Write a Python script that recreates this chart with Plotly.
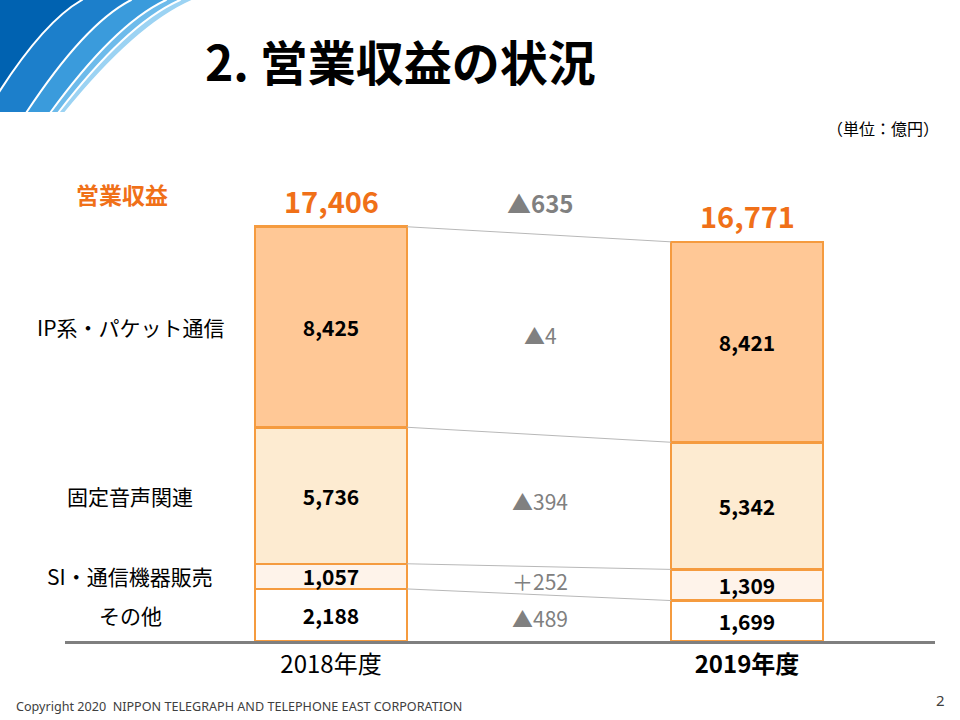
import plotly.graph_objects as go

# ---- data ----
years = ["2018年度", "2019年度"]
year_ticks = ["2018年度", "<b>2019年度</b>"]
segments = ["その他", "SI・通信機器販売", "固定音声関連", "IP系・パケット通信"]  # bottom -> top
values = {
    "その他": [2188, 1699],
    "SI・通信機器販売": [1057, 1309],
    "固定音声関連": [5736, 5342],
    "IP系・パケット通信": [8425, 8421],
}
totals = [17406, 16771]
seg_colors = {
    "その他": "#FFFFFF",
    "SI・通信機器販売": "#FEF3EA",
    "固定音声関連": "#FDEBD1",
    "IP系・パケット通信": "#FFC896",
}

# ---- layout geometry ----
W, H = 960, 720
L, R, T, B = 65, 25, 100, 79
PW, PH = W - L - R, H - T - B
JP = "Noto Sans CJK JP"
ORANGE = "#F07018"
GRAY = "#808080"
BORDER = "#F59B3F"
BARW = 0.365


def px(x):
    return (x - L) / PW


def py(y):
    return (H - B - y) / PH


def fmt(v):
    return f"{v:,}"


def fmt_delta(d):
    return ("▲" if d < 0 else "＋") + f"{abs(d):,}"


fig = go.Figure()

for seg in segments:
    fig.add_trace(go.Bar(
        x=years, y=values[seg], width=BARW,
        marker=dict(color=seg_colors[seg], line=dict(color=BORDER, width=2.5)),
        text=[fmt(v) for v in values[seg]],
        textposition="inside", insidetextanchor="middle",
        textfont=dict(family=JP, size=21, color="#000000", weight="bold"),
        hoverinfo="skip", showlegend=False,
    ))

shapes = []
annotations = []

# cumulative boundaries
cum = [[0, 0]]
for seg in segments:
    prev = cum[-1]
    cum.append([prev[i] + values[seg][i] for i in range(2)])

# connector lines between bars
for c in cum[1:]:
    shapes.append(dict(type="line", xref="x", yref="y",
                       x0=BARW / 2, x1=1 - BARW / 2, y0=c[0], y1=c[1],
                       line=dict(color="#B8B8B8", width=1)))

# left category labels & delta labels
for k, seg in enumerate(segments):
    lo, hi = cum[k], cum[k + 1]
    mid18 = (lo[0] + hi[0]) / 2
    mid19 = (lo[1] + hi[1]) / 2
    annotations.append(dict(xref="paper", yref="y", x=px(130), y=mid18,
                            text=seg, showarrow=False, xanchor="center", yanchor="middle",
                            font=dict(family=JP, size=21, color="#000000")))
    d = values[seg][1] - values[seg][0]
    annotations.append(dict(xref="paper", yref="y", x=px(540), y=(mid18 + mid19) / 2,
                            text=fmt_delta(d), showarrow=False, xanchor="center", yanchor="middle",
                            font=dict(family=JP, size=21, color=GRAY)))

# totals
for i, yv in enumerate(years):
    annotations.append(dict(xref="x", yref="y", x=yv, y=totals[i], text=f"<b>{fmt(totals[i])}</b>",
                            showarrow=False, yanchor="bottom", yshift=4,
                            font=dict(family=JP, size=29, color=ORANGE)))
annotations.append(dict(xref="paper", yref="y", x=px(540), y=(totals[0] + totals[1]) / 2,
                        text=f"<b>{fmt_delta(totals[1] - totals[0])}</b>", showarrow=False,
                        yanchor="bottom", yshift=12,
                        font=dict(family=JP, size=24, color=GRAY)))

# static texts
annotations += [
    dict(xref="paper", yref="paper", x=px(122), y=py(194), text="<b>営業収益</b>", showarrow=False,
         xanchor="center", yanchor="middle", font=dict(family=JP, size=23, color=ORANGE)),
    dict(xref="paper", yref="paper", x=px(203), y=py(60), text="<b>2. 営業収益の状況</b>", showarrow=False,
         xanchor="left", yanchor="middle", font=dict(family=JP, size=48, color="#000000")),
    dict(xref="paper", yref="paper", x=px(941), y=py(128), text="（単位：億円）", showarrow=False,
         xanchor="right", yanchor="middle", font=dict(family=JP, size=16, color="#000000")),
    dict(xref="paper", yref="paper", x=px(14), y=py(706),
         text="Copyright 2020  NIPPON TELEGRAPH AND TELEPHONE EAST CORPORATION", showarrow=False,
         xanchor="left", yanchor="middle", font=dict(family="Noto Sans", size=12.6, color="#404040")),
    dict(xref="paper", yref="paper", x=px(947), y=py(700), text="2", showarrow=False,
         xanchor="right", yanchor="middle", font=dict(family="Noto Sans", size=15, color="#404040")),
]

# decorative blue bands top-left
bands = [(194, 65, "#9CD3F3"), (180, 58, "#6DBBEB"), (166, 50, "#3A9BDC"),
         (131, 26, "#1C7FCB"), (82, -14, "#0062B1")]
for xt, xb, col in bands:
    cx = xb + 0.56 * (xt - xb)
    cy = 0.21 * 113
    path = (f"M {px(-5)},{py(-5)} L {px(xt + 4)},{py(-5)} L {px(xt)},{py(0)} "
            f"Q {px(cx)},{py(cy)} {px(xb)},{py(113)} L {px(-5)},{py(113)} Z")
    shapes.append(dict(type="path", xref="paper", yref="paper", path=path,
                       fillcolor=col, line=dict(color="#FFFFFF", width=2), layer="above"))

fig.update_layout(
    width=W, height=H,
    margin=dict(l=L, r=R, t=T, b=B),
    paper_bgcolor="#FFFFFF", plot_bgcolor="#FFFFFF",
    barmode="stack",
    uniformtext=dict(minsize=21, mode="show"),
    xaxis=dict(type="category", categoryorder="array", categoryarray=years,
               range=[-(331 - L) / 416, (W - R - 331) / 416],
               tickvals=years, ticktext=year_ticks, ticks="",
               tickfont=dict(family=JP, size=24, color="#000000"),
               showline=True, linecolor="#7F7F7F", linewidth=3,
               showgrid=False, zeroline=False, fixedrange=True),
    yaxis=dict(range=[0, PH / 0.0238], visible=False, showgrid=False, zeroline=False,
               fixedrange=True),
    shapes=shapes, annotations=annotations,
    showlegend=False,
)

fig.write_html("out.html", config={"displayModeBar": False},
               post_script="document.body.style.margin='0';")
